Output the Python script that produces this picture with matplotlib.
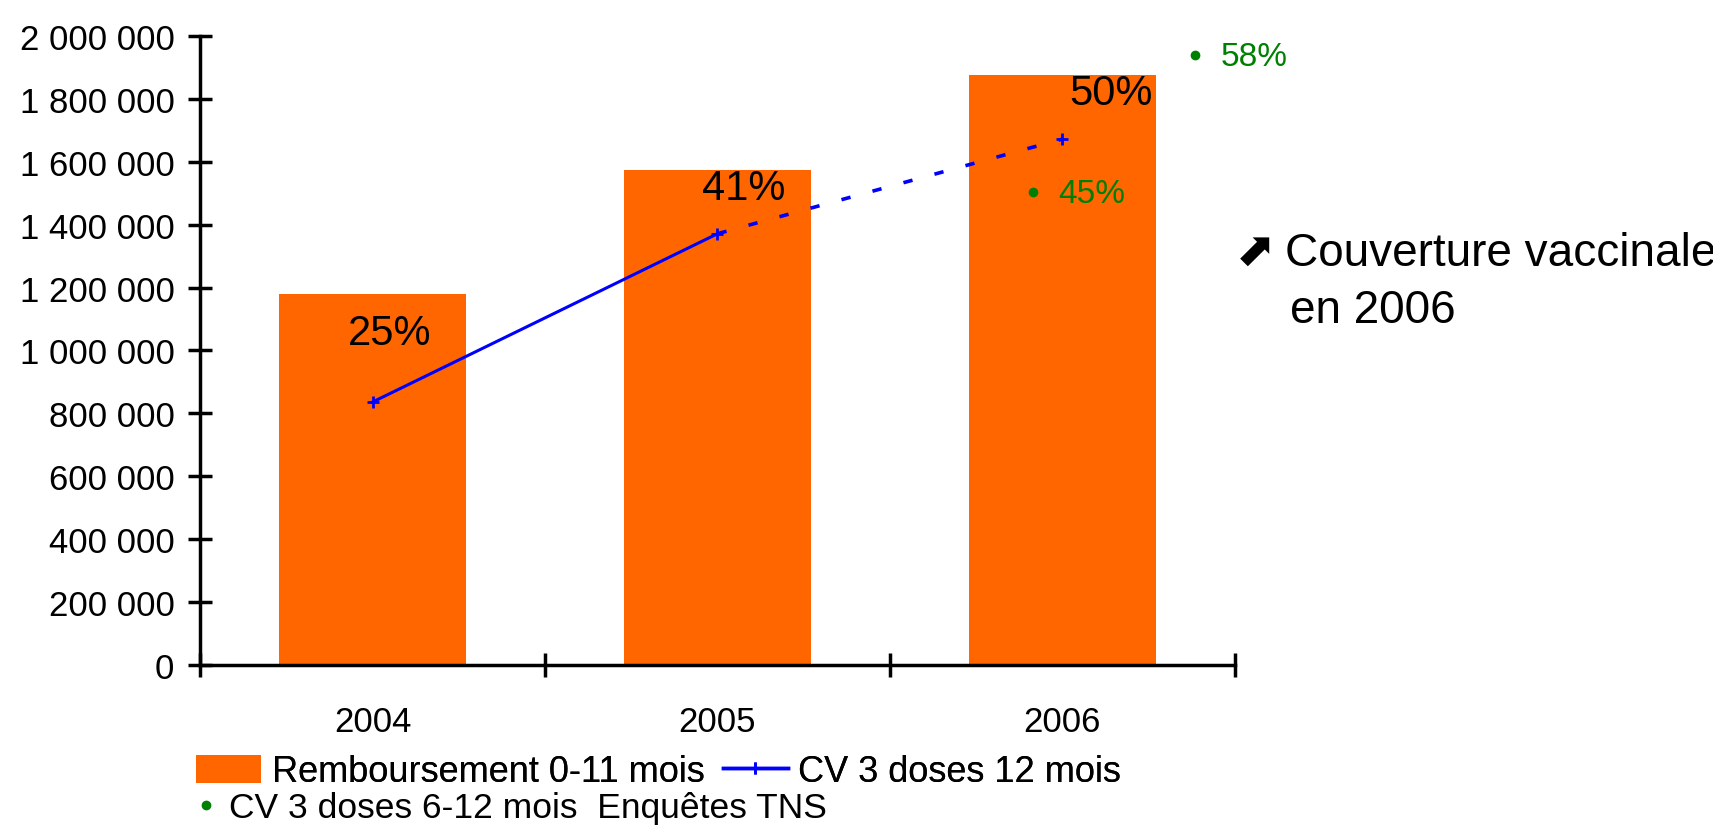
import numpy as np
import matplotlib
matplotlib.use("Agg")
import matplotlib.pyplot as plt
from matplotlib.lines import Line2D
from matplotlib.patches import Patch

# --- data -------------------------------------------------------------
years = ["2004", "2005", "2006"]
reimbursements = [1180000, 1575000, 1875000]          # Remboursement 0-11 mois
coverage_12m = [25, 41, 50]                           # CV 3 doses 12 mois (%)
survey_coverage = [45, 58]                            # Enquêtes TNS 2006 (%)
survey_year_index = [2, 2]
y_ticks = [0, 200000, 400000, 600000, 800000, 1000000,
           1200000, 1400000, 1600000, 1800000, 2000000]
y_tick_labels = ["0", "200 000", "400 000", "600 000", "800 000", "1 000 000",
                 "1 200 000", "1 400 000", "1 600 000", "1 800 000", "2 000 000"]
legend_labels = ["Remboursement 0-11 mois", "CV 3 doses 12 mois",
                 "CV 3 doses 6-12 mois  Enquêtes TNS"]

ORANGE = "#FF6600"
BLUE = "#0000FF"
GREEN = "#008000"

plt.rcParams["font.family"] = ["Liberation Sans", "DejaVu Sans"]

fig = plt.figure(figsize=(17.13, 8.29), dpi=100)
ax = fig.add_axes([0.1168, 0.1966, 0.6041, 0.7588])

x = np.arange(len(years))
ax.bar(x, reimbursements, width=0.54, color=ORANGE, zorder=1)

ax.set_xlim(-0.5, len(years) - 0.5)
ax.set_ylim(0, 2000000)
ax.set_yticks(y_ticks, labels=y_tick_labels)
ax.set_xticks(np.arange(len(years) + 1) - 0.5)
ax.set_xticklabels([])
ax.set_xticks(x, labels=years, minor=True)

ax.tick_params(axis="y", direction="inout", length=17, width=2.5,
               labelsize=25, pad=10)
ax.tick_params(axis="x", which="major", direction="inout", length=17,
               width=2.5)
ax.tick_params(axis="x", which="minor", length=0, labelsize=25, pad=29)
for side in ("top", "right"):
    ax.spines[side].set_visible(False)
for side in ("left", "bottom"):
    ax.spines[side].set_linewidth(2.5)

# coverage series on a hidden percentage scale
ax2 = ax.twinx()
ax2.set_ylim(0, 59.8)
ax2.axis("off")

ax2.plot(x[:2], coverage_12m[:2], color=BLUE, lw=2.2, zorder=3)
ax2.plot(x[1:], coverage_12m[1:], color=BLUE, lw=2.6,
         linestyle=(0, (2.6, 6.3)), zorder=3)
ax2.plot(x, coverage_12m, linestyle="none", marker="+", markersize=9,
         mew=2, color=BLUE, zorder=4)

label_offsets = [(12, 50), (19, 33), (35, 33)]
for xi, v, off in zip(x, coverage_12m, label_offsets):
    ax2.annotate(f"{v}%", (xi, v), xytext=off, textcoords="offset points",
                 ha="center", va="center", fontsize=30, color="black")

survey_shift = [-0.084, 0.385]
survey_x = [i + s for i, s in zip(survey_year_index, survey_shift)]
ax2.plot(survey_x, survey_coverage, linestyle="none", marker="o",
         markersize=6, color=GREEN, zorder=4, clip_on=False)
for sx, v in zip(survey_x, survey_coverage):
    ax2.annotate(f"{v}%", (sx, v), xytext=(18, -1), textcoords="offset points",
                 ha="left", va="center", fontsize=24, color=GREEN,
                 annotation_clip=False)

# side note
fig.text(1236 / 1713, 1 - 252 / 829, "⬈", fontsize=34, family="DejaVu Sans",
         ha="left", va="center", color="black")
fig.text(1285 / 1713, 1 - 254 / 829, "Couverture vaccinale", fontsize=33,
         ha="left", va="center", color="black")
fig.text(1290 / 1713, 1 - 311 / 829, "en 2006", fontsize=33,
         ha="left", va="center", color="black")

# legends
h_bar = Patch(facecolor=ORANGE, edgecolor="none")
h_line = Line2D([], [], color=BLUE, lw=2.5, marker="+", markersize=9, mew=2)
h_survey = Line2D([], [], linestyle="none", marker="o", markersize=6,
                  color=GREEN)

leg1 = fig.legend([h_bar, h_line], legend_labels[:2], ncol=2,
                  loc="center left", bbox_to_anchor=(196 / 1713, 1 - 773 / 829),
                  frameon=False, fontsize=26, handlelength=1.8,
                  handleheight=0.8, handletextpad=0.3, columnspacing=0.5,
                  borderpad=0, borderaxespad=0)
fig.legend([h_survey], legend_labels[2:], loc="center left",
           bbox_to_anchor=(197 / 1713, 1 - 809 / 829), frameon=False,
           fontsize=25.5, handlelength=0.5, handletextpad=0.4,
           borderpad=0, borderaxespad=0)
fig.add_artist(leg1)

fig.savefig("out.png", dpi=100)
